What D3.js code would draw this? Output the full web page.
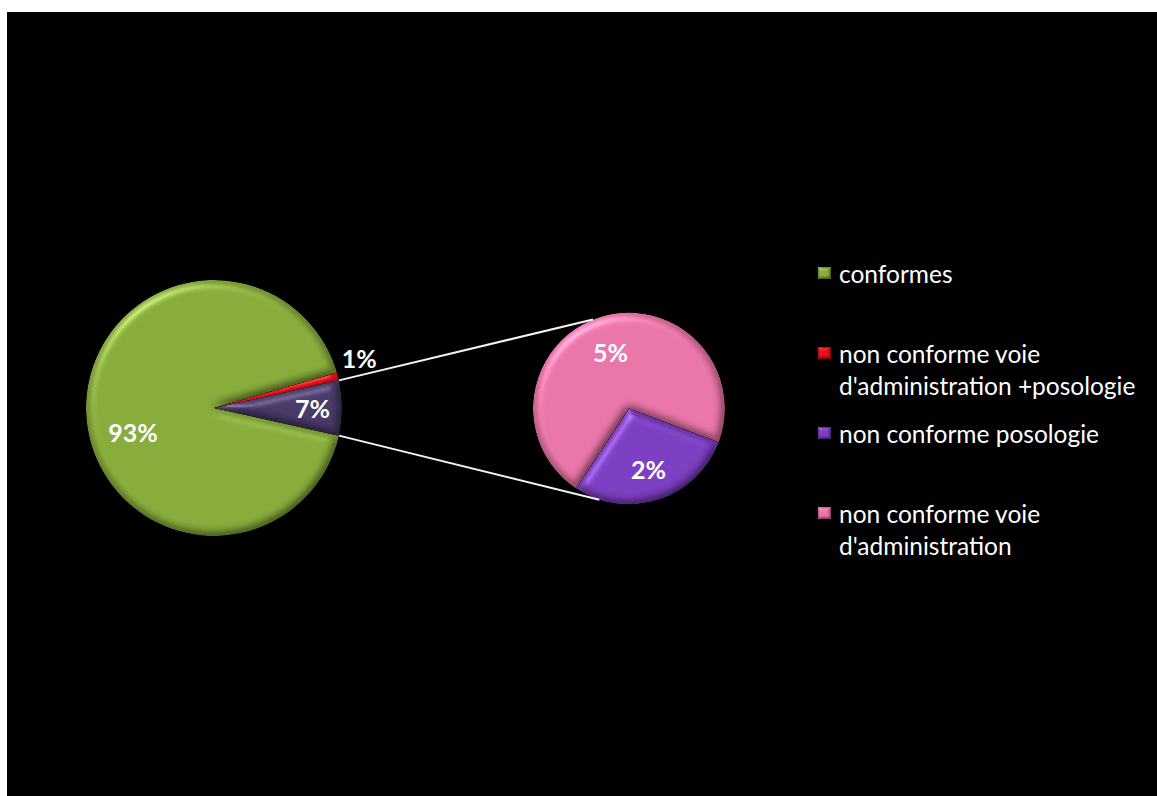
<!DOCTYPE html>
<html>
<head>
<meta charset="utf-8">
<script src="https://cdn.jsdelivr.net/npm/d3@7"></script>
<style>
  html, body { margin: 0; padding: 0; background: #fff; }
  svg { display: block; }
</style>
</head>
<body>
<script>
// Categories and their shares (%)
const categories = [
  "conformes",
  "non conforme voie d'administration +posologie",
  "non conforme posologie",
  "non conforme voie d'administration"
];
const values = [93, 1, 2, 5];
const colors = ["#8ab03c", "#e8101a", "#7f3fc6", "#ef78ac"];
const otherColor = "#4a3a6a";

const W = 1157, H = 796;
const svg = d3.select("body").append("svg").attr("width", W).attr("height", H);

// Frame
svg.append("rect").attr("width", W).attr("height", H).attr("fill", "#fff");
svg.append("rect").attr("x", 7).attr("y", 12).attr("width", W - 7).attr("height", H - 12).attr("fill", "#000");

const defs = svg.append("defs");

// Soft bevel on slices
function bevel(id, blur, scale) {
  const f = defs.append("filter").attr("id", id)
    .attr("color-interpolation-filters", "sRGB")
    .attr("x", "-10%").attr("y", "-10%").attr("width", "120%").attr("height", "120%");
  f.append("feGaussianBlur").attr("in", "SourceAlpha").attr("stdDeviation", blur).attr("result", "blur");
  const spec = f.append("feSpecularLighting").attr("in", "blur")
    .attr("surfaceScale", scale).attr("specularConstant", 0.6).attr("specularExponent", 30)
    .attr("lighting-color", "#ffffff").attr("result", "spec");
  spec.append("feDistantLight").attr("azimuth", 235).attr("elevation", 40);
  f.append("feComposite").attr("in", "spec").attr("in2", "SourceAlpha").attr("operator", "in").attr("result", "specIn");
  const dif = f.append("feDiffuseLighting").attr("in", "blur")
    .attr("surfaceScale", scale).attr("diffuseConstant", 1.0)
    .attr("lighting-color", "#ffffff").attr("result", "dif");
  dif.append("feDistantLight").attr("azimuth", 235).attr("elevation", 75);
  f.append("feComposite").attr("in", "SourceGraphic").attr("in2", "dif").attr("operator", "arithmetic")
    .attr("k1", 1.0).attr("k2", 0).attr("k3", 0).attr("k4", 0).attr("result", "lit");
  f.append("feComposite").attr("in", "lit").attr("in2", "specIn").attr("operator", "arithmetic")
    .attr("k1", 0).attr("k2", 1).attr("k3", 0.4).attr("k4", 0).attr("result", "sum");
  f.append("feComposite").attr("in", "sum").attr("in2", "SourceAlpha").attr("operator", "in");
}
bevel("bevel", 5, 5);
bevel("bevelSmall", 1.5, 2);

const deg = Math.PI / 180;
const polar = (c, r, a) => [c[0] + r * Math.sin(a), c[1] - r * Math.cos(a)];

// ---- Main pie: first two categories plus the grouped remainder ----
const mainC = [214, 408], R = 128;
const otherValue = values[2] + values[3];
const mainValues = [otherValue, values[0], values[1]];
const mainColors = [otherColor, colors[0], colors[1]];
const mainTotal = d3.sum(mainValues);
const mainStart = Math.PI / 2 - Math.PI * otherValue / mainTotal;
const mainArcs = d3.pie().sort(null).value(d => d)
  .startAngle(mainStart).endAngle(mainStart + 2 * Math.PI)(mainValues);
const arcMain = d3.arc().innerRadius(0).outerRadius(R);

const gMain = svg.append("g").attr("transform", `translate(${mainC})`);
gMain.selectAll("path").data(mainArcs).join("path")
  .attr("d", arcMain)
  .attr("fill", (d, i) => mainColors[i])
  .attr("filter", "url(#bevel)");

// ---- Secondary pie: breakdown of the remainder ----
const secC = [629, 408.5], r2 = 96;
const secValues = [values[2], values[3]];
const secColors = [colors[2], colors[3]];
const secMid = 162 * deg; // centre direction of the first slice
const secStart = secMid - Math.PI * secValues[0] / d3.sum(secValues);
const secArcs = d3.pie().sort(null).value(d => d)
  .startAngle(secStart).endAngle(secStart + 2 * Math.PI)(secValues);
const arcSec = d3.arc().innerRadius(0).outerRadius(r2);

const gSec = svg.append("g").attr("transform", `translate(${secC})`);
gSec.selectAll("path").data(secArcs).join("path")
  .attr("d", arcSec)
  .attr("fill", (d, i) => secColors[i])
  .attr("filter", "url(#bevel)");

// ---- Connector lines ----
const o = mainArcs[0];
const joinAngles = [338 * deg, 198 * deg];
const connectors = [
  [polar(mainC, R, o.startAngle), polar(secC, r2, joinAngles[0])],
  [polar(mainC, R, o.endAngle), polar(secC, r2, joinAngles[1])]
];
svg.selectAll("line.conn").data(connectors).join("line")
  .attr("class", "conn")
  .attr("x1", d => d[0][0]).attr("y1", d => d[0][1])
  .attr("x2", d => d[1][0]).attr("y2", d => d[1][1])
  .attr("stroke", "#f2f2f2").attr("stroke-width", 2);

// ---- Data labels ----
const fmt = v => v + "%";
// label placement: radius fraction and angular nudge per slice
const mainLabelPos = [[0.77, 0], [0.66, -14.7], [1.2, -4.6]];
const secLabelPos = [[0.66, 0], [0.62, 0]];
const labelFont = "Lato, 'Open Sans', sans-serif";

function drawLabels(g, arcs, pos, r) {
  g.selectAll("text.lbl").data(arcs).join("text")
    .attr("class", "lbl")
    .attr("transform", (d, i) => {
      const a = (d.startAngle + d.endAngle) / 2 + pos[i][1] * deg;
      const p = polar([0, 0], pos[i][0] * r, a);
      return `translate(${p})`;
    })
    .attr("text-anchor", "middle")
    .attr("dominant-baseline", "central")
    .attr("fill", "#fff")
    .attr("font-family", labelFont)
    .attr("font-weight", "bold")
    .attr("font-size", 25)
    .text(d => fmt(d.data));
}
drawLabels(gMain, mainArcs, mainLabelPos, R);
drawLabels(gSec, secArcs, secLabelPos, r2);

// ---- Legend ----
const legend = svg.append("g").attr("transform", "translate(818,273)");
const rowGap = 80, lineH = 32, wrapW = 340;
const items = legend.selectAll("g").data(categories).join("g")
  .attr("transform", (d, i) => `translate(0,${i * rowGap})`);
items.append("rect")
  .attr("x", 0).attr("y", -6).attr("width", 13).attr("height", 12)
  .attr("fill", (d, i) => colors[i])
  .attr("filter", "url(#bevelSmall)");
items.each(function (name) {
  const t = d3.select(this).append("text")
    .attr("x", 21).attr("y", 0)
    .attr("dominant-baseline", "central")
    .attr("fill", "#fff")
    .attr("font-family", labelFont)
    .attr("font-size", 24.5);
  const words = name.split(" ");
  let line = [];
  let ts = t.append("tspan").attr("x", 21).attr("dy", 0);
  for (const w of words) {
    line.push(w);
    ts.text(line.join(" "));
    if (ts.node().getComputedTextLength() > wrapW && line.length > 1) {
      line.pop();
      ts.text(line.join(" "));
      line = [w];
      ts = t.append("tspan").attr("x", 21).attr("dy", lineH).text(w);
    }
  }
});
</script>
</body>
</html>
